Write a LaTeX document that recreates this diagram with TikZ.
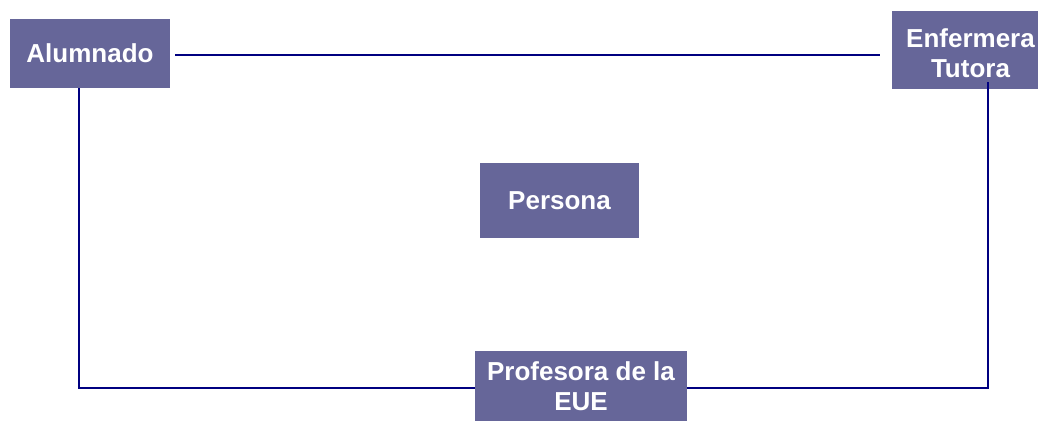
\documentclass[tikz,border=0pt]{standalone}
\usepackage{fontspec}
\setmainfont{Liberation Sans}
\usetikzlibrary{calc}
\definecolor{boxfill}{HTML}{666699}
\definecolor{linecol}{HTML}{000080}
\begin{document}
\begin{tikzpicture}[x=1pt,y=-1pt,
  box/.style={rectangle, fill=boxfill, inner sep=0pt, text=white, align=center,
    font=\fontsize{26}{30}\selectfont\bfseries},
  lbl/.style={inner sep=0pt, text=white, align=center,
    font=\fontsize{26}{30}\selectfont\bfseries},
  link/.style={draw=linecol, line width=2pt}]
\useasboundingbox (0,0) rectangle (1038,421);
\node[box, minimum width=160, minimum height=69] (al) at (90,53.5) {Alumnado};
\node[box, minimum width=146, minimum height=78] (en) at (965,50) {};
\node[lbl] (ent) at (970.5,53) {Enfermera\\Tutora};
\node[box, minimum width=159, minimum height=75] (pe) at (559.5,200.5) {Persona};
\node[box, minimum width=212, minimum height=70] (pr) at (581,386) {Profesora de la\\EUE};
\draw[link] ($(al.east)+(5,1.5)$) -- ($(en.west)+(-12,5)$);
\draw[link] ($(al.south)+(-11,0)$) |- ($(pr.west)+(0,2)$);
\draw[link] ($(en.south)+(23,-7)$) |- ($(pr.east)+(0,2)$);
\end{tikzpicture}
\end{document}
